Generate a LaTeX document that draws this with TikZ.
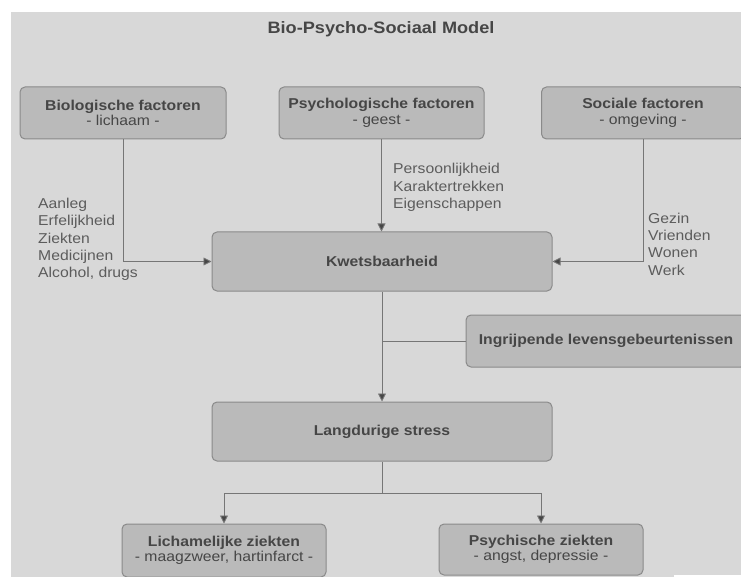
\documentclass[tikz,border=0pt]{standalone}
\usepackage{fontspec}
\setmainfont[FakeStretch=1.1]{Liberation Sans}
\usetikzlibrary{arrows.meta}
\definecolor{bg}{RGB}{216,216,216}
\definecolor{boxfill}{RGB}{186,186,186}
\definecolor{boxline}{RGB}{138,138,138}
\definecolor{txt}{RGB}{70,70,70}
\definecolor{lbl}{RGB}{92,92,92}
\definecolor{connc}{RGB}{118,118,118}
\definecolor{tipc}{RGB}{70,70,70}
\begin{document}
\begin{tikzpicture}[x=1pt,y=-1pt,
  box/.style={draw=boxline, fill=boxfill, rounded corners=5pt, line width=1pt, text=txt, align=center, inner sep=0pt, font=\fontsize{14.3}{15.5}\selectfont},
  lab/.style={align=left, anchor=west, inner sep=0pt, text=lbl, font=\fontsize{14.3}{17.3}\selectfont},
  conn/.style={draw=connc, line width=0.9pt},
  arr/.style={conn, -{Triangle[width=8pt,length=8pt,fill=tipc]}}]
\useasboundingbox (0,0) rectangle (741,577);
\fill[white] (0,0) rectangle (741,577);
\fill[bg] (11,12) rectangle (741,577);
\fill[white] (674,575) rectangle (741,577);

\node[text=txt, inner sep=0pt, font=\fontsize{16.5}{18}\selectfont\bfseries] (title) at (381,29) {Bio-Psycho-Sociaal Model};

\node[box, minimum width=206pt, minimum height=52pt] (bio) at (123,113) {\textbf{Biologische factoren}\\- lichaam -};
\node[box, minimum width=205pt, minimum height=52pt] (psy) at (381.5,113) {\textbf{Psychologische factoren}\\- geest -};
\node[box, minimum width=203pt, minimum height=52pt] (soc) at (643,113) {\textbf{Sociale factoren}\\- omgeving -};

\node[box, minimum width=340pt, minimum height=59pt] (kw) at (382,261.5) {\textbf{Kwetsbaarheid}};
\node[box, minimum width=280pt, minimum height=52pt] (ing) at (606,341) {\textbf{Ingrijpende levensgebeurtenissen}};
\node[box, minimum width=340pt, minimum height=59pt] (lang) at (382,431.5) {\textbf{Langdurige stress}};

\node[box, minimum width=204pt, minimum height=53pt] (lich) at (224,550.5) {\textbf{Lichamelijke ziekten}\\- maagzweer, hartinfarct -};
\node[box, minimum width=204pt, minimum height=51pt] (psych) at (541,549.5) {\textbf{Psychische ziekten}\\- angst, depressie -};

\node[lab] (labbio) at (38,239.5) {Aanleg\\Erfelijkheid\\Ziekten\\Medicijnen\\Alcohol, drugs};
\node[lab] (labpsy) at (393,187.5) {Persoonlijkheid\\Karaktertrekken\\Eigenschappen};
\node[lab] (labsoc) at (648,244) {Gezin\\Vrienden\\Wonen\\Werk};

\draw[arr] (bio.south) |- (kw.west);
\draw[arr] (psy.south) -- (psy.south |- kw.north);
\draw[arr] (soc.south) |- (kw.east);
\draw[arr] (kw.south) -- (lang.north);
\draw[conn] (ing.west) -- (kw.south |- ing.west);
\coordinate (split) at (382,493);
\draw[conn] (lang.south) -- (split);
\draw[arr] (split) -| (lich.north);
\draw[arr] (split) -| (psych.north);
\end{tikzpicture}
\end{document}
